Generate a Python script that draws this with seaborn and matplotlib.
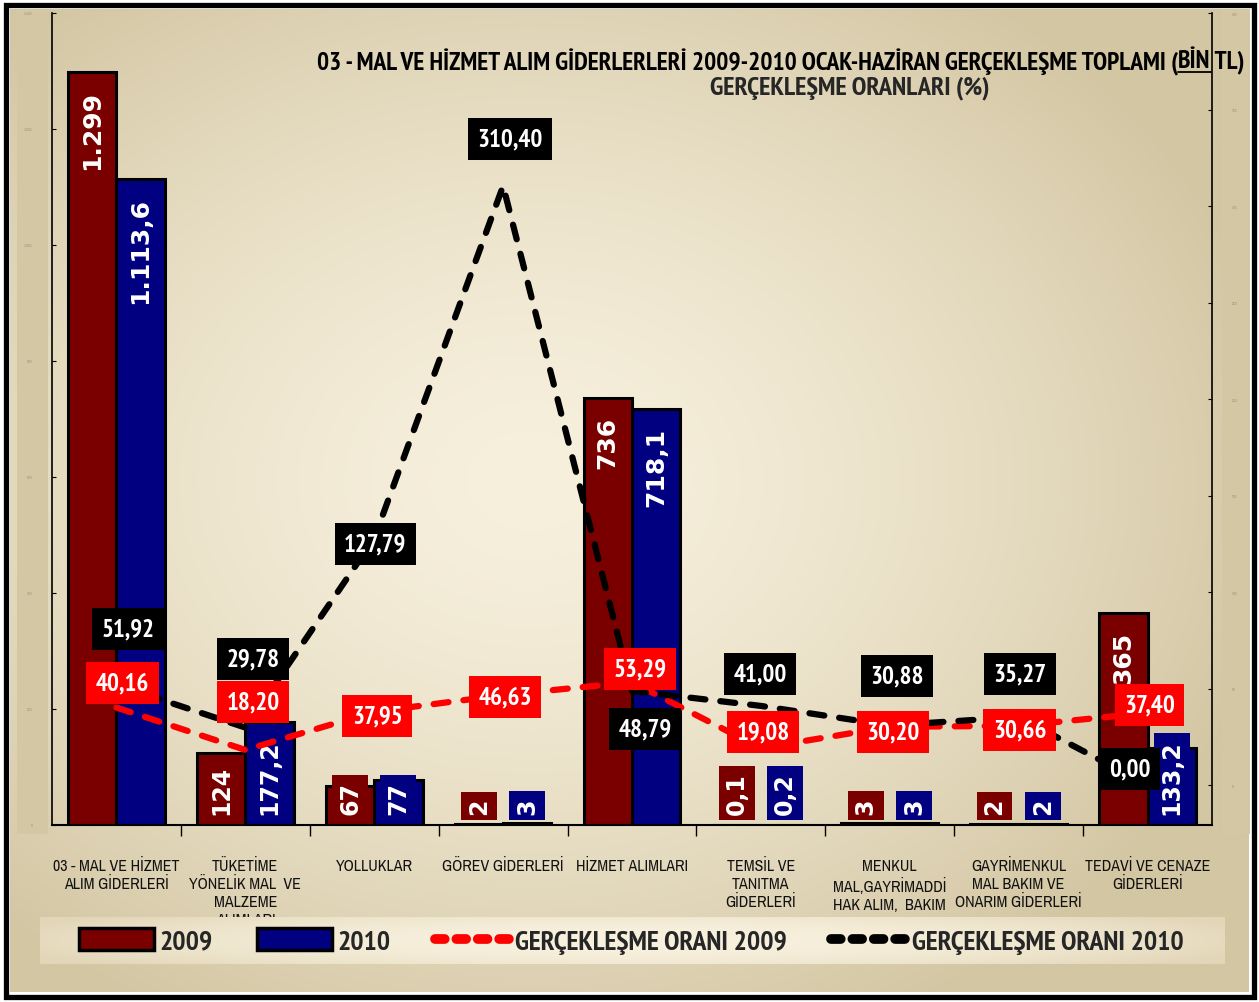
import numpy as np
import pandas as pd
import matplotlib
matplotlib.use("Agg")
import matplotlib.pyplot as plt
import seaborn as sns
from matplotlib import font_manager as fm
from matplotlib.patches import Rectangle, Patch
from matplotlib.lines import Line2D

# ---------------- data ----------------
tick_labels = [
    "03 - MAL VE HİZMET\nALIM GİDERLERİ",
    "TÜKETİME\nYÖNELİK MAL  VE\nMALZEME\nALIMLARI",
    "YOLLUKLAR",
    "GÖREV GİDERLERİ",
    "HİZMET ALIMLARI",
    "TEMSİL VE\nTANITMA\nGİDERLERİ",
    "MENKUL\nMAL,GAYRİMADDİ\nHAK ALIM,  BAKIM\nVE ONARIM",
    "GAYRİMENKUL\nMAL BAKIM VE\nONARIM GİDERLERİ",
    "TEDAVİ VE CENAZE\nGİDERLERİ",
]
values_2009 = [1299, 124, 67, 2, 736, 0.1, 3, 2, 365]
values_2010 = [1113.6, 177.2, 77, 3, 718.1, 0.2, 3, 2, 133.2]
bar_text_2009 = ["1.299", "124", "67", "2", "736", "0,1", "3", "2", "365"]
bar_text_2010 = ["1.113,6", "177,2", "77", "3", "718,1", "0,2", "3", "2", "133,2"]
rate_2009 = [40.16, 18.20, 37.95, 46.63, 53.29, 19.08, 30.20, 30.66, 37.40]
rate_2010 = [51.92, 29.78, 127.79, 310.40, 48.79, 41.00, 30.88, 35.27, 0.00]
left_ticks = [0, 200, 400, 600, 800, 1000, 1200, 1400]
left_tick_text = ["0", "200", "400", "600", "800", "1.000", "1.200", "1.400"]
right_ticks = [0, 50, 100, 150, 200, 250, 300, 350, 400]
title_main = "03 - MAL VE HİZMET ALIM GİDERLERLERİ 2009-2010 OCAK-HAZİRAN GERÇEKLEŞME TOPLAMI ("
title_italic = "BİN"
title_end = " TL)"
title_line2 = "GERÇEKLEŞME ORANLARI (%)"
legend_labels = ["2009", "2010", "GERÇEKLEŞME ORANI 2009", "GERÇEKLEŞME ORANI 2010"]

# ---------------- fonts ----------------
def _w(x):
    if isinstance(x, str):
        return fm.weight_dict.get(x, 400)
    return x

_avail = {}
for _f in fm.fontManager.ttflist:
    _avail.setdefault(_f.name, set()).add(_w(_f.weight))

def pick(cands, bold):
    for c in cands:
        if c in _avail:
            ws = _avail[c]
            if bold and max(ws) >= 600:
                return c
            if not bold and min(ws) <= 500:
                return c
    return "DejaVu Sans"

NARROW_CANDS = ["Liberation Sans Narrow", "Arial Narrow", "Archivo Narrow", "PT Sans Narrow",
                "Roboto Condensed", "Encode Sans Condensed", "Open Sans Condensed",
                "Noto Sans Condensed", "Sofia Sans Condensed", "Encode Sans Semi Condensed"]
NB = pick(NARROW_CANDS, True)
NR = pick(NARROW_CANDS, False)

MAROON = "#7A0000"
NAVY = "#000080"
RED = "#FF0000"
sns.set_theme(style="white")
plt.rcParams["font.family"] = [NR, "DejaVu Sans"]

W, H = 1259, 1003
fig = plt.figure(figsize=(W / 100, H / 100), dpi=100, facecolor="white")
renderer = fig.canvas.get_renderer()

# background gradient
bg = fig.add_axes([10 / W, 10 / H, 1 - 20 / W, 1 - 20 / H], zorder=-10)
yy, xx = np.mgrid[0:1:300j, 0:1:400j]
d = np.sqrt(((xx - 0.42) / 0.62) ** 2 + ((yy - 0.48) / 0.62) ** 2)
t = np.clip(d, 0, 1) ** 1.5
light = np.array([247, 240, 221]) / 255
tan = np.array([211, 198, 163]) / 255
img = light * (1 - t[..., None]) + tan * t[..., None]
bg.imshow(img, aspect="auto", extent=[0, 1, 0, 1], interpolation="bilinear")
bg.axis("off")

for x0, w in [(17, 31), (1222, 28)]:
    fig.add_artist(Rectangle((x0 / W, 1 - 835 / H), w / W, 825 / H, transform=fig.transFigure,
                             fc="#D4C7A4", ec="none", zorder=-5))

fig.add_artist(Rectangle((5.5 / W, 5.5 / H), 1 - 11 / W, 1 - 11 / H, transform=fig.transFigure,
                         fill=False, ec="black", lw=3.8, zorder=10))

# ---------------- main axes ----------------
ax = fig.add_axes([52 / W, 1 - 826 / H, 1160 / W, 812 / H])
ax.patch.set_alpha(0)

cats = [f"c{i}" for i in range(len(tick_labels))]
df = pd.DataFrame({
    "kategori": cats * 2,
    "yil": ["2009"] * len(cats) + ["2010"] * len(cats),
    "deger": values_2009 + values_2010,
})
sns.barplot(data=df, x="kategori", y="deger", hue="yil", order=cats,
            palette=[MAROON, NAVY], width=0.75, edgecolor="black", linewidth=2.2,
            saturation=1, legend=False, ax=ax, zorder=2)
ax.set_xlim(-0.5, len(cats) - 0.5)
ax.set_ylim(0, 1400)
ax.set_xlabel("")
ax.set_ylabel("")
ax.set_xticks(range(len(cats)))
ax.set_xticklabels(tick_labels, fontsize=11.5, linespacing=1.25, color="#111111",
                   family=[NR, "DejaVu Sans"])
ax.set_xticks(np.arange(0.5, len(cats) - 0.5, 1), minor=True)
ax.tick_params(axis="x", which="major", length=0, pad=24)
ax.tick_params(axis="x", which="minor", length=8, width=1, color="black", direction="out", bottom=True)
ax.set_yticks(left_ticks)
ax.set_yticklabels(left_tick_text, fontsize=3, color="#A0967E")
ax.tick_params(axis="y", direction="in", length=3, width=0.8, color="black", pad=14, left=True)
for s in ["top", "right"]:
    ax.spines[s].set_visible(False)
ax.spines["left"].set_color("black")
ax.spines["left"].set_linewidth(1.2)
ax.spines["bottom"].set_color("black")
ax.spines["bottom"].set_linewidth(1.5)
ax.grid(False)

for cont, texts, col in zip(ax.containers, [bar_text_2009, bar_text_2010], [MAROON, NAVY]):
    for bar, txt, val in zip(cont, texts, cont.datavalues):
        xc = bar.get_x() + bar.get_width() / 2
        if val >= 250:
            ax.annotate(txt, xy=(xc, val), xytext=(0, -13), textcoords="offset points",
                        ha="center", va="top", rotation=90, color="white", fontsize=18,
                        fontweight="bold", family="DejaVu Sans", zorder=4)
        else:
            ax.annotate(txt, xy=(xc, 0), xytext=(0, 8), textcoords="offset points",
                        ha="center", va="bottom", rotation=90, color="white", fontsize=17,
                        fontweight="bold", family="DejaVu Sans", zorder=4,
                        bbox=dict(boxstyle="square,pad=0.25", fc=col, ec="none"))

# ---------------- lines ----------------
ax2 = ax.twinx()
ax2.set_ylim(-20.7, 400)
xs = np.arange(len(cats))
dash = (0, (2.4, 2.4))
sns.lineplot(x=xs, y=rate_2009, ax=ax2, color=RED, linewidth=4.5, linestyle=dash,
             dash_capstyle="round", zorder=5)
sns.lineplot(x=xs, y=rate_2010, ax=ax2, color="black", linewidth=4.5, linestyle=dash,
             dash_capstyle="round", zorder=5)
ax2.set_ylabel("")
ax2.set_yticks(right_ticks)
ax2.set_yticklabels([str(v) for v in right_ticks], fontsize=3, color="#A0967E")
ax2.tick_params(axis="y", direction="in", length=3, width=0.8, color="black", pad=14, right=True)
for s in ["top", "left", "bottom"]:
    ax2.spines[s].set_visible(False)
ax2.spines["right"].set_color("black")
ax2.spines["right"].set_linewidth(1.2)
ax2.grid(False)

off_2010 = [(12, 56), (8, 69), (1, -6), (7, 47), (13, -38), (-1, 32), (7, 49), (1, 43), (-18, 16)]
off_2009 = [(6, 25), (8, 48), (3, -4), (2, -2), (8, 13), (2, 16), (3, -5), (1, -4), (2, 8)]
for vals, offs, fc in [(rate_2009, off_2009, RED), (rate_2010, off_2010, "black")]:
    for i, (v, (dx, dy)) in enumerate(zip(vals, offs)):
        ax2.annotate(f"{v:.2f}".replace(".", ","), xy=(i, v), xytext=(dx * 0.72, dy * 0.72),
                     textcoords="offset points", ha="center", va="center", color="white",
                     fontsize=18, fontweight="bold", family=[NB, "DejaVu Sans"], zorder=8,
                     bbox=dict(boxstyle="square,pad=0.38", fc=fc, ec="none"))

# ---------------- title (fitted to reference width) ----------------
ty = 1 - 62 / H
def make_title(size):
    kw = dict(fontsize=size, fontweight="bold", va="center", ha="left", color="black",
              zorder=9, family=[NB, "DejaVu Sans"])
    a = fig.text(0, ty, title_main, **kw)
    b = fig.text(0, ty, title_italic, style="italic", **kw)
    c = fig.text(0, ty, title_end, **kw)
    ws = [x.get_window_extent(renderer).width for x in (a, b, c)]
    return (a, b, c), ws

parts, ws = make_title(16)
target = 1245 - 313
size = 16 * target / sum(ws)
for p in parts:
    p.remove()
parts, ws = make_title(size)
x_start = 1245 - sum(ws)
parts[0].set_x(x_start / W)
parts[1].set_x((x_start + ws[0]) / W)
parts[2].set_x((x_start + ws[0] + ws[1]) / W)
ul_y = ty - 11 / H
fig.add_artist(Line2D([(x_start + ws[0]) / W, (x_start + ws[0] + ws[1]) / W], [ul_y, ul_y],
                      transform=fig.transFigure, color="black", lw=1.3, zorder=9))
fig.text(850 / W, 1 - 88 / H, title_line2, fontsize=size * 1.03, fontweight="bold",
         family=[NB, "DejaVu Sans"], ha="center", va="center", zorder=9)

# ---------------- legend strip ----------------
strip = fig.add_axes([40 / W, 1 - 965 / H, 1185 / W, 47 / H], zorder=4)
gx = np.linspace(0, 1, 400)[None, :]
gy = np.linspace(0, 1, 40)[:, None]
gd = np.clip(np.sqrt(((gx - 0.5) / 0.55) ** 2 + ((gy - 0.5) / 0.9) ** 2), 0, 1) ** 2
s_light = np.array([248, 241, 222]) / 255
s_dark = np.array([226, 214, 184]) / 255
strip.imshow(s_light * (1 - gd[..., None]) + s_dark * gd[..., None], aspect="auto",
             extent=[0, 1, 0, 1], interpolation="bilinear")
strip.axis("off")

def make_legend(size):
    handles = [
        Patch(fc=MAROON, ec="black", lw=2.5),
        Patch(fc=NAVY, ec="black", lw=2.5),
        Line2D([], [], color=RED, lw=7, linestyle=(0, (1.0, 1.2)), dash_capstyle="round"),
        Line2D([], [], color="black", lw=7, linestyle=(0, (1.0, 1.2)), dash_capstyle="round"),
    ]
    lg = fig.legend(handles, legend_labels, loc="center", bbox_to_anchor=(631 / W, 1 - 942 / H),
                    ncol=4, frameon=False, handlelength=2.7, handleheight=0.8,
                    handletextpad=0.2, columnspacing=1.6, borderpad=0,
                    prop=dict(family=[NB, "DejaVu Sans"], weight="bold", size=size))
    lg.set_zorder(6)
    return lg

leg = make_legend(19)
lw_ = leg.get_window_extent(renderer).width
leg.remove()
leg = make_legend(min(21, 19 * 1103 / lw_))

fig.savefig("out.png", dpi=100, facecolor="white")
